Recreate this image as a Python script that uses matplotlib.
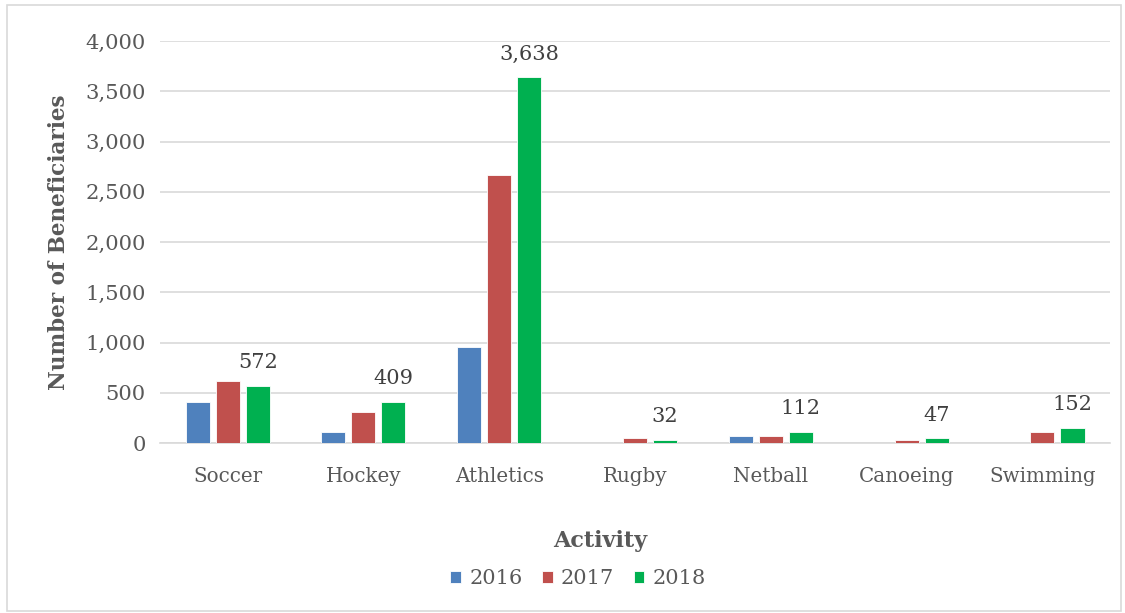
import numpy as np
import matplotlib.pyplot as plt
from matplotlib.patches import Rectangle
from matplotlib.ticker import FuncFormatter

# Beneficiaries per activity and year
activities = ["Soccer", "Hockey", "Athletics", "Rugby", "Netball", "Canoeing", "Swimming"]
years = ["2016", "2017", "2018"]
vals_2016 = [408, 110, 955, 0, 70, 0, 0]
vals_2017 = [617, 308, 2667, 50, 70, 30, 113]
vals_2018 = [572, 409, 3638, 32, 112, 47, 152]

colors = ["#4F81BD", "#C0504D", "#00B050"]
text_col = "#595959"
font = ["DejaVu Serif"]

plt.rcParams["font.family"] = font

fig = plt.figure(figsize=(11.25, 6.13), dpi=100)
ax = fig.add_axes([0.142, 0.277, 0.845, 0.656])

x = np.arange(len(activities))
width = 0.177
step = 0.221
series = [vals_2016, vals_2017, vals_2018]
for i, (vals, col, yr) in enumerate(zip(series, colors, years)):
    bars = ax.bar(x + (i - 1) * step, vals, width, color=col, label=yr,
                  edgecolor="white", linewidth=0.6, zorder=3)
    if yr == "2018":
        for b, v in zip(bars, vals):
            ax.annotate(f"{v:,}", (b.get_x() + b.get_width() / 2, v),
                        xytext=(0, 10), textcoords="offset points",
                        ha="center", va="bottom", fontsize=15, color="#404040")

ax.set_xlim(-0.5, len(activities) - 0.5)
ax.set_ylim(0, 4000)
ax.set_yticks(np.arange(0, 4001, 500))
ax.yaxis.set_major_formatter(FuncFormatter(lambda v, p: f"{int(v):,}"))
ax.set_xticks(x)
ax.set_xticklabels(activities)
ax.tick_params(axis="both", length=0, colors=text_col)
ax.tick_params(axis="x", pad=17, labelsize=14.3)
ax.tick_params(axis="y", pad=10, labelsize=15.2)
ax.grid(axis="y", color="#D9D9D9", linewidth=1.2, zorder=0)
for s in ["top", "right", "left"]:
    ax.spines[s].set_visible(False)
ax.spines["bottom"].set_color("#D9D9D9")
ax.spines["bottom"].set_linewidth(1.2)

ax.set_ylabel("Number of Beneficiaries", fontsize=15.5, fontweight="bold",
              color=text_col, labelpad=11)
fig.text(0.5337, 1 - 541 / 613, "Activity", ha="center", va="center",
         fontsize=16, fontweight="bold", color=text_col)

handles, labels = ax.get_legend_handles_labels()
fig.legend(handles, labels, loc="center", bbox_to_anchor=(0.514, 1 - 579 / 613),
           ncol=3, frameon=False, fontsize=15, handlelength=0.5, handleheight=0.5,
           handletextpad=0.4, columnspacing=0.95, labelcolor=text_col)

# light frame around the chart area
fig.patches.append(Rectangle((0.006, 0.004), 0.99, 0.988, transform=fig.transFigure,
                             fill=False, edgecolor="#D9D9D9", linewidth=1.2))

fig.savefig("out.png", dpi=100)
